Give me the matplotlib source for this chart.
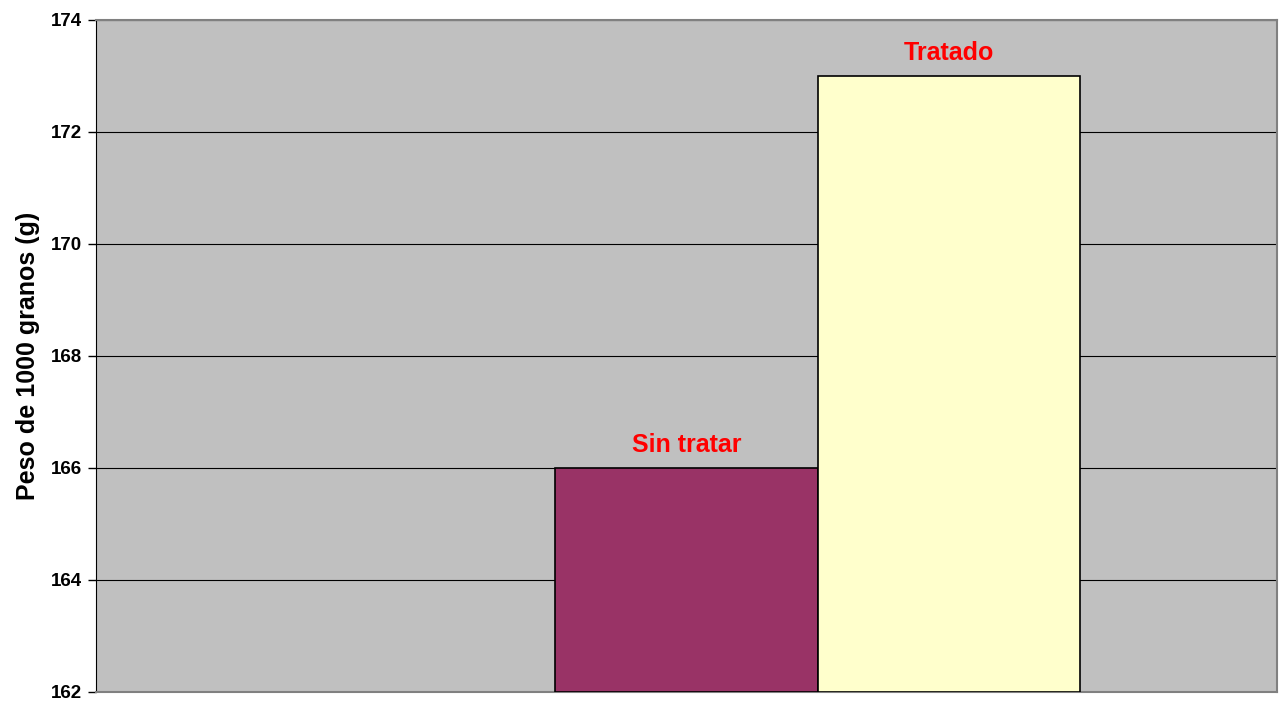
import matplotlib
matplotlib.use("Agg")
import matplotlib.pyplot as plt

plt.rcParams['font.family'] = ['Liberation Sans', 'DejaVu Sans']

series = ["", "Sin tratar", "Tratado"]
values = [None, 166, 173]
colors = ["#C0C0C0", "#993366", "#FFFFCC"]
yticks = [162, 164, 166, 168, 170, 172, 174]

fig = plt.figure(figsize=(12.79, 7.05), dpi=100)
ax = fig.add_axes([96 / 1279, 13 / 705, 1181 / 1279, 672 / 705])
ax.set_facecolor("#C0C0C0")

# one category, three series (first empty), gap width 150%
w = 1 / (len(series) + 1.5)
for i, (name, val, col) in enumerate(zip(series, values, colors)):
    if val is None:
        continue
    x = (i - 1) * w
    ax.bar(x, val - 162, bottom=162, width=w, color=col, edgecolor="black", linewidth=1.2, zorder=3)
    ax.text(x, val + 0.2, name, ha="center", va="bottom", color="red",
            fontsize=18, fontweight="bold", zorder=4)

ax.set_xlim(-0.5, 0.5)
ax.set_ylim(162, 174)
ax.set_yticks(yticks)
ax.set_yticklabels([str(t) for t in yticks], fontsize=13.5, fontweight="bold")
ax.set_xticks([])
ax.grid(axis="y", color="black", linewidth=0.8, zorder=1)
ax.tick_params(axis="y", length=6, width=1, pad=4)
ax.spines["left"].set_color("black")
for s in ["top", "right", "bottom"]:
    ax.spines[s].set_color("#808080")
    ax.spines[s].set_linewidth(1.5)
ax.set_ylabel("Peso de 1000 granos (g)", fontsize=18, fontweight="bold", labelpad=8)

fig.savefig("out.png", dpi=100)
